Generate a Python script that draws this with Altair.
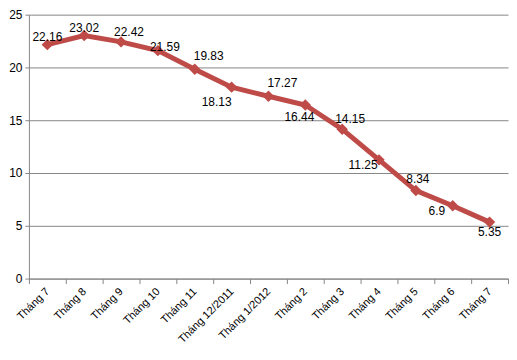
import json
import altair as alt
import pandas as pd

months = ["Tháng 7", "Tháng 8", "Tháng 9", "Tháng 10", "Tháng 11", "Tháng 12/2011",
          "Tháng 1/2012", "Tháng 2", "Tháng 3", "Tháng 4", "Tháng 5", "Tháng 6", "Tháng 7"]
values = [22.16, 23.02, 22.42, 21.59, 19.83, 18.13, 17.27, 16.44, 14.15, 11.25, 8.34, 6.9, 5.35]
label_place = ["top", "top", "top_right", "right", "top_right_far", "bottom_left_far",
               "top_right_far", "bottom_left", "top_right", "left", "top_high", "left", "bottom"]
y_ticks = [0, 5, 10, 15, 20, 25]

df = pd.DataFrame({
    "idx": list(range(len(months))),
    "value": values,
    "label": [f"{v:g}" for v in values],
    "place": label_place,
})

RED = "#BE4B48"
GRID = "#868686"
FONT = "Liberation Sans"
label_expr = json.dumps(months, ensure_ascii=False) + "[datum.value]"

x = alt.X(
    "idx:O", title=None,
    scale=alt.Scale(type="band", paddingInner=0, paddingOuter=0),
    axis=alt.Axis(labelExpr=label_expr, labelAngle=-45, labelAlign="right",
                  labelBaseline="middle", labelFont=FONT, labelFontSize=11,
                  labelColor="#000000", tickBand="extent", tickSize=5,
                  tickColor=GRID, domainColor=GRID, labelPadding=6, grid=False),
)
y = alt.Y(
    "value:Q", title=None,
    scale=alt.Scale(domain=[0, 25]),
    axis=alt.Axis(values=y_ticks, tickSize=4, labelPadding=3, gridColor=GRID,
                  domainColor=GRID, tickColor=GRID, labelFontSize=12, labelFont=FONT,
                  labelColor="#000000"),
)

base = alt.Chart(df).encode(x=x, y=y)
line = base.mark_line(color=RED, strokeWidth=5)
pts = base.mark_point(shape="diamond", filled=True, size=130, color=RED, opacity=1)

offsets = {
    "top": (0, -8),
    "top_high": (2, -12),
    "top_right": (8, -10),
    "top_right_far": (14, -13),
    "right": (7, -4),
    "bottom_left_far": (-15, 15),
    "bottom_left": (-6, 12),
    "left": (-16, 5),
    "bottom": (0, 10),
}
texts = [
    base.transform_filter(alt.datum.place == name)
        .mark_text(dx=dx, dy=dy, font=FONT, fontSize=12, color="#000000", baseline="middle")
        .encode(text="label:N")
    for name, (dx, dy) in offsets.items()
]

chart = alt.layer(line, pts, *texts).properties(
    width=481, height=265, background="white", padding=0
).configure_view(stroke=None)

chart.save("out.html", embed_options={"renderer": "svg", "actions": False})
